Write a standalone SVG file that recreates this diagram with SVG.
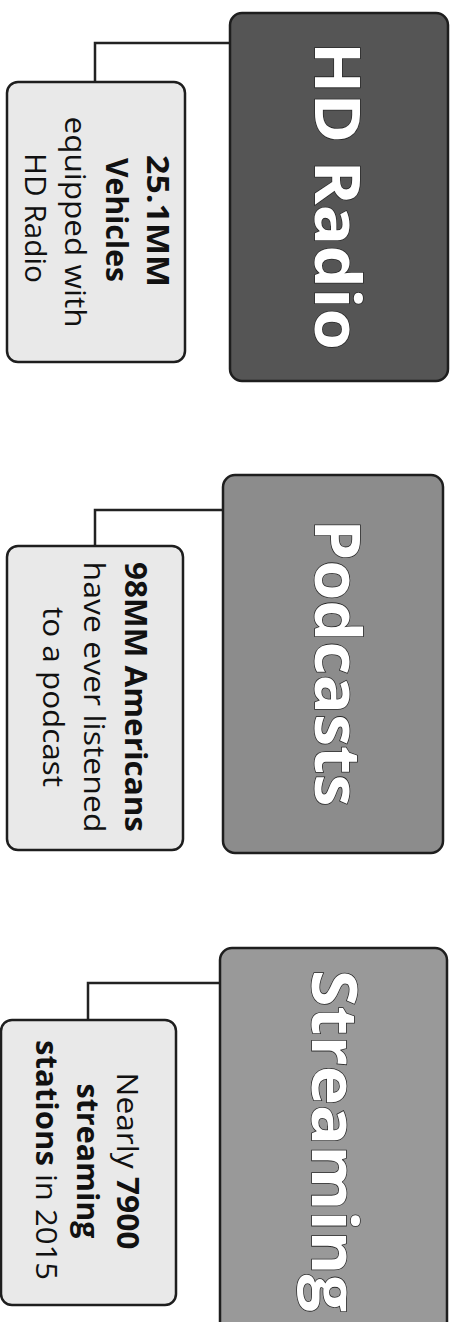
<svg xmlns="http://www.w3.org/2000/svg" width="459" height="1322" viewBox="0 0 459 1322">
  <style>
    .big { stroke: #1e1e1e; stroke-width: 2.5; }
    .small { fill: #e9e9e9; stroke: #1e1e1e; stroke-width: 2.5; }
    .title { font-family: "Open Sans", "Liberation Sans", sans-serif; font-weight: 700; font-size: 62px; fill: #ffffff; stroke: #2a2a2a; stroke-width: 1.5; paint-order: stroke; text-anchor: middle; }
    .label { font-family: "Open Sans", "Liberation Sans", sans-serif; font-size: 30px; fill: #111111; text-anchor: middle; }
    .b { font-weight: 700; }
    .conn { fill: none; stroke: #222222; stroke-width: 2.5; }
  </style>
  <rect width="459" height="1322" fill="#ffffff"/>

  <g id="connectors">
    <path class="conn" d="M230,43 H95 V82"/>
    <path class="conn" d="M223,510 H95 V546"/>
    <path class="conn" d="M220,983 H88 V1020"/>
  </g>

  <g id="hd-radio">
    <rect class="big" x="230" y="13" width="218" height="368" rx="12" fill="#555555"/>
    <text class="title" transform="translate(315,196) rotate(90)" textLength="308" lengthAdjust="spacingAndGlyphs">HD Radio</text>
  </g>
  <g id="hd-radio-stat">
    <rect class="small" x="7" y="82" width="178" height="280" rx="11"/>
    <text class="label b" transform="translate(147,221) rotate(90)" textLength="132" lengthAdjust="spacingAndGlyphs">25.1MM</text>
    <text class="label b" transform="translate(106,220) rotate(90)" textLength="124" lengthAdjust="spacingAndGlyphs">Vehicles</text>
    <text class="label" transform="translate(65,222) rotate(90)" textLength="211" lengthAdjust="spacingAndGlyphs">equipped with</text>
    <text class="label" transform="translate(25,218) rotate(90)" textLength="130" lengthAdjust="spacingAndGlyphs">HD Radio</text>
  </g>

  <g id="podcasts">
    <rect class="big" x="223" y="475" width="220" height="378" rx="12" fill="#8c8c8c"/>
    <text class="title" transform="translate(315,663) rotate(90)" textLength="287" lengthAdjust="spacingAndGlyphs">Podcasts</text>
  </g>
  <g id="podcasts-stat">
    <rect class="small" x="7" y="546" width="176" height="304" rx="11"/>
    <text class="label b" transform="translate(125,697) rotate(90)" textLength="270" lengthAdjust="spacingAndGlyphs">98MM Americans</text>
    <text class="label" transform="translate(84,697) rotate(90)" textLength="271" lengthAdjust="spacingAndGlyphs">have ever listened</text>
    <text class="label" transform="translate(43,697) rotate(90)" textLength="180" lengthAdjust="spacingAndGlyphs">to a podcast</text>
  </g>

  <g id="streaming">
    <rect class="big" x="220" y="948" width="227" height="400" rx="12" fill="#999999"/>
    <text class="title" transform="translate(312,1141) rotate(90)" textLength="342" lengthAdjust="spacingAndGlyphs">Streaming</text>
  </g>
  <g id="streaming-stat">
    <rect class="small" x="1" y="1020" width="175" height="285" rx="11"/>
    <text class="label" transform="translate(117,1161) rotate(90)" textLength="177" lengthAdjust="spacingAndGlyphs">Nearly <tspan class="b">7900</tspan></text>
    <text class="label b" transform="translate(77,1161) rotate(90)" textLength="155" lengthAdjust="spacingAndGlyphs">streaming</text>
    <text class="label" transform="translate(36,1160) rotate(90)" textLength="240" lengthAdjust="spacingAndGlyphs"><tspan class="b">stations</tspan> in 2015</text>
  </g>
</svg>
